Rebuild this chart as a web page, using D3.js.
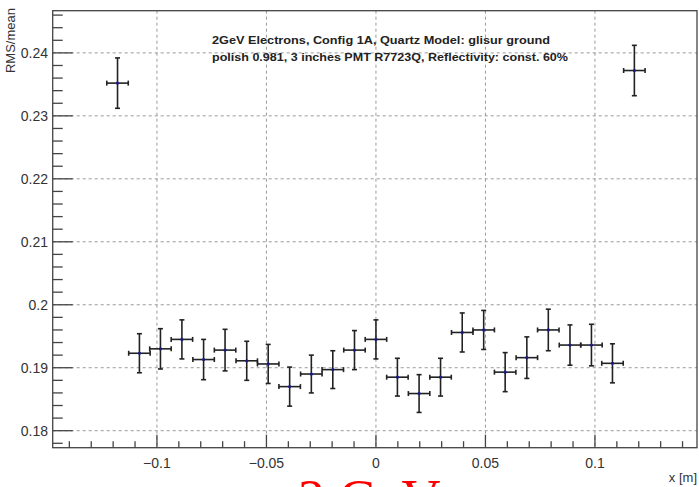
<!DOCTYPE html>
<html><head><meta charset="utf-8">
<script src="https://cdn.jsdelivr.net/npm/d3@7"></script>
<style>html,body{margin:0;padding:0;background:#fff;overflow:hidden}</style>
</head><body>
<svg id="c" width="699" height="487"></svg>
<script>
const xValues = [-0.118, -0.108, -0.0984, -0.0886, -0.0787, -0.0689, -0.059, -0.0492, -0.0394, -0.0295, -0.0197, -0.0098, 0, 0.0098, 0.0197, 0.0295, 0.0394, 0.0492, 0.059, 0.0689, 0.0787, 0.0886, 0.0984, 0.108, 0.118];
const yValues = [0.2352, 0.1923, 0.1930, 0.1945, 0.1913, 0.1928, 0.1911, 0.1906, 0.1870, 0.1890, 0.1897, 0.1928, 0.1945, 0.1885, 0.1859, 0.1885, 0.1956, 0.1960, 0.1893, 0.1916, 0.1960, 0.1936, 0.1936, 0.1907, 0.2372];
const yErrors = [0.0040, 0.0031, 0.0032, 0.0031, 0.0032, 0.0033, 0.0031, 0.0031, 0.0031, 0.0030, 0.0030, 0.0031, 0.0031, 0.0030, 0.0030, 0.0030, 0.0031, 0.0031, 0.0031, 0.0033, 0.0033, 0.0032, 0.0033, 0.0031, 0.0040];
const xError = 0.0049;
const xTicks = [-0.1, -0.05, 0, 0.05, 0.1];
const xTickLabels = ["\u22120.1", "\u22120.05", "0", "0.05", "0.1"];
const yTicks = [0.18, 0.19, 0.2, 0.21, 0.22, 0.23, 0.24];
const yTickLabels = ["0.18", "0.19", "0.2", "0.21", "0.22", "0.23", "0.24"];
const titleLines = ["2GeV Electrons, Config 1A, Quartz Model: glisur ground", "polish 0.981, 3 inches PMT R7723Q, Reflectivity: const. 60%"];

const L = 52.7, R = 697, T = 10.7, B = 447.7;
const svg = d3.select("#c");
const x = d3.scaleLinear().domain([-0.1476, 0.1466]).range([L, R]);
const y = d3.scaleLinear().domain([0.1773, 0.2467]).range([B, T]);
const font = "'Liberation Sans', Arial, Helvetica, sans-serif";
const axisCol = "#444";

// grid
const g = svg.append("g");
g.selectAll("line.gx").data(xTicks).enter().append("line")
  .attr("x1", d => x(d)).attr("x2", d => x(d)).attr("y1", T).attr("y2", B)
  .attr("stroke", "#999").attr("stroke-width", 1).attr("stroke-dasharray", "3,3");
g.selectAll("line.gy").data(yTicks).enter().append("line")
  .attr("x1", L).attr("x2", R).attr("y1", d => y(d)).attr("y2", d => y(d))
  .attr("stroke", "#999").attr("stroke-width", 1).attr("stroke-dasharray", "3,3");

// minor ticks
const xMinor = d3.range(-0.14, 0.145, 0.01).map(v => Math.round(v * 1000) / 1000);
const yMinor = d3.range(0.178, 0.2465, 0.002).map(v => Math.round(v * 10000) / 10000);
const tk = svg.append("g").attr("stroke", axisCol).attr("stroke-width", 1.3);
tk.selectAll("line.xm").data(xMinor).enter().append("line")
  .attr("x1", d => x(d)).attr("x2", d => x(d)).attr("y1", B)
  .attr("y2", d => B - (xTicks.some(t => Math.abs(t - d) < 1e-6) ? 13 : 6.5));
tk.selectAll("line.ym").data(yMinor).enter().append("line")
  .attr("y1", d => y(d)).attr("y2", d => y(d)).attr("x1", L)
  .attr("x2", d => L + (yTicks.some(t => Math.abs(t - d) < 1e-6) ? 20 : 10));

// frame
svg.append("rect").attr("x", L).attr("y", T).attr("width", R - L).attr("height", B - T)
  .attr("fill", "none").attr("stroke", axisCol).attr("stroke-width", 1.3);

// tick labels
svg.selectAll("text.xl").data(xTicks).enter().append("text")
  .attr("x", d => x(d)).attr("y", 468).attr("text-anchor", "middle")
  .attr("font-family", font).attr("font-size", 14).attr("fill", "#333")
  .text((d, i) => xTickLabels[i]);
svg.selectAll("text.yl").data(yTicks).enter().append("text")
  .attr("x", 48).attr("y", d => y(d) + 5).attr("text-anchor", "end")
  .attr("font-family", font).attr("font-size", 14).attr("fill", "#333")
  .text((d, i) => yTickLabels[i]);

// axis titles
svg.append("text").attr("x", 697).attr("y", 482).attr("text-anchor", "end")
  .attr("font-family", font).attr("font-size", 13).attr("fill", "#333").text("x [m]");
svg.append("text").attr("transform", "translate(15,8) rotate(-90)").attr("text-anchor", "end")
  .attr("font-family", font).attr("font-size", 13).attr("fill", "#333").text("RMS/mean");

// title
svg.selectAll("text.t").data(titleLines).enter().append("text")
  .attr("x", 212).attr("y", (d, i) => 44 + i * 17)
  .attr("font-family", font).attr("font-size", 10.5).attr("font-weight", "bold").attr("fill", "#222")
  .attr("textLength", (d, i) => i === 0 ? 338 : 356).attr("lengthAdjust", "spacingAndGlyphs")
  .text(d => d);

// data points with error bars
const pts = xValues.map((v, i) => ({ x: v, y: yValues[i], e: yErrors[i] }));
const pg = svg.append("g").attr("stroke", "#222").attr("stroke-width", 1.6);
const cap = 2.5;
pts.forEach(p => {
  const cx = x(p.x), cy = y(p.y);
  const y1 = y(p.y + p.e), y2 = y(p.y - p.e);
  const x1 = x(p.x - xError), x2 = x(p.x + xError);
  pg.append("line").attr("x1", cx).attr("x2", cx).attr("y1", y1).attr("y2", y2);
  pg.append("line").attr("x1", x1).attr("x2", x2).attr("y1", cy).attr("y2", cy);
  pg.append("line").attr("x1", cx - cap).attr("x2", cx + cap).attr("y1", y1).attr("y2", y1);
  pg.append("line").attr("x1", cx - cap).attr("x2", cx + cap).attr("y1", y2).attr("y2", y2);
  pg.append("line").attr("x1", x1).attr("x2", x1).attr("y1", cy - cap).attr("y2", cy + cap);
  pg.append("line").attr("x1", x2).attr("x2", x2).attr("y1", cy - cap).attr("y2", cy + cap);
});
svg.selectAll("circle.m").data(pts).enter().append("circle")
  .attr("cx", d => x(d.x)).attr("cy", d => y(d.y)).attr("r", 1.6).attr("fill", "#1a1a80");

// big red label cut off at bottom
svg.append("text").attr("x", 298).attr("y", 517)
  .attr("font-family", "'Liberation Serif', 'Times New Roman', serif").attr("font-size", 54)
  .attr("fill", "#ff0000").text("2 GeV");
</script>
</body></html>
